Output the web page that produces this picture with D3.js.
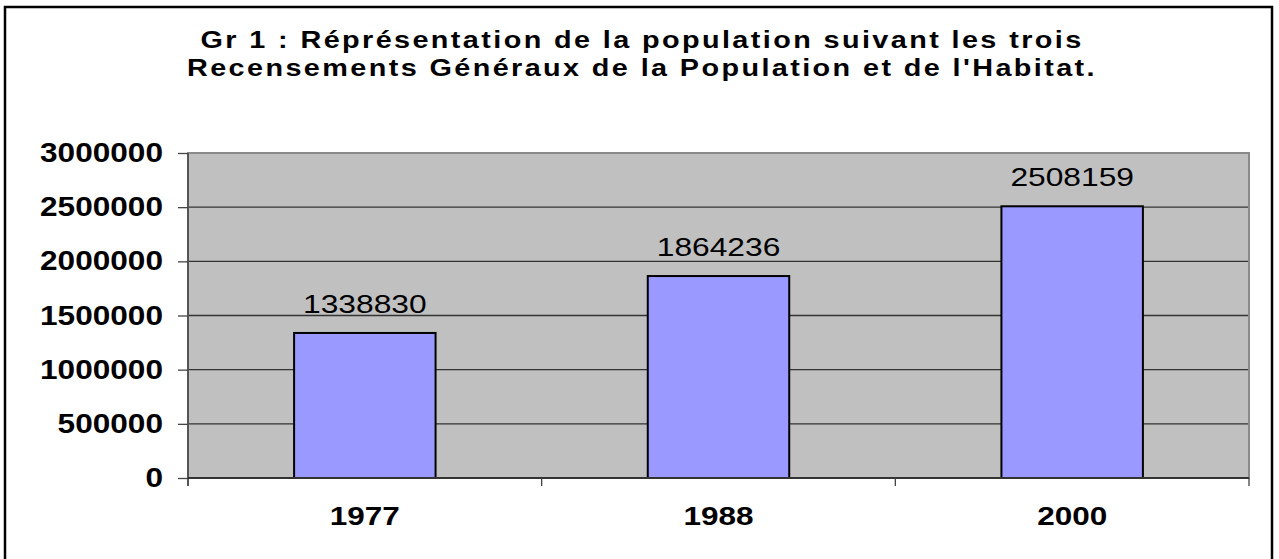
<!DOCTYPE html>
<html>
<head>
<meta charset="utf-8">
<script src="https://cdn.jsdelivr.net/npm/d3@7"></script>
<style>
  html, body { margin: 0; padding: 0; background: #fff; }
  svg text { font-family: "Liberation Sans", Arial, sans-serif; fill: #000; }
</style>
</head>
<body>
<svg id="chart" width="1279" height="559"></svg>
<script>
// data
const years = ['1977', '1988', '2000'];
const population = [1338830, 1864236, 2508159];
const yTicks = [0, 500000, 1000000, 1500000, 2000000, 2500000, 3000000];
const titleLines = [
  'Gr 1 : Réprésentation de la population suivant les trois',
  "Recensements Généraux de la Population et de l'Habitat."
];

const W = 1279, H = 559;
const m = { top: 153, right: 30, bottom: 81, left: 188 };
const w = W - m.left - m.right;
const h = H - m.top - m.bottom;

const svg = d3.select('#chart');

// the original picture is stretched sideways, so text is scaled in x
const label = (sel, x, y, txt, size, weight, anchor, sx) =>
  sel.append('text')
    .attr('transform', `translate(${x},${y}) scale(${sx},1)`)
    .attr('text-anchor', anchor)
    .attr('font-size', size)
    .attr('font-weight', weight)
    .text(txt);

// outer frame (bottom edge falls outside the picture)
svg.append('rect')
  .attr('x', 5).attr('y', 7).attr('width', 1267).attr('height', 580)
  .attr('fill', 'none').attr('stroke', '#000').attr('stroke-width', 2.5);

// title
titleLines.forEach((t, i) =>
  label(svg, 642, 48 + i * 28, t, 24, 'bold', 'middle', 1.2).attr('letter-spacing', 2));

const g = svg.append('g').attr('transform', `translate(${m.left},${m.top})`);

const x = d3.scaleBand().domain(years).range([0, w]).paddingInner(0.6).paddingOuter(0.3);
const xCat = d3.scaleBand().domain(years).range([0, w]);
const y = d3.scaleLinear().domain([0, 3000000]).range([h, 0]);

// plot background
g.append('rect').attr('width', w).attr('height', h).attr('fill', '#c0c0c0');

// gridlines
g.append('g').selectAll('line').data(yTicks.slice(1, -1)).join('line')
  .attr('x1', 0).attr('x2', w)
  .attr('y1', d => y(d)).attr('y2', d => y(d))
  .attr('stroke', '#333').attr('stroke-width', 1.3);

// plot border
g.append('rect').attr('width', w).attr('height', h)
  .attr('fill', 'none').attr('stroke', '#8a8a8a').attr('stroke-width', 2);

// bars
g.append('g').selectAll('rect').data(population).join('rect')
  .attr('x', (d, i) => x(years[i]))
  .attr('y', d => y(d))
  .attr('width', x.bandwidth())
  .attr('height', d => h - y(d))
  .attr('fill', '#9999ff')
  .attr('stroke', '#000').attr('stroke-width', 2);

// value labels
population.forEach((v, i) =>
  label(g, x(years[i]) + x.bandwidth() / 2, y(v) - 20, v, 25, 'normal', 'middle', 1.27));

// y axis
const yAxis = g.append('g')
  .call(d3.axisLeft(y).tickValues(yTicks).tickSize(10).tickPadding(14).tickFormat(d3.format('d')));
yAxis.select('.domain').attr('stroke', '#555').attr('stroke-width', 2).attr('d', `M0,0V${h + 8}`);
yAxis.selectAll('.tick line').attr('stroke', '#444').attr('stroke-width', 1.3);
yAxis.selectAll('.tick text').remove();
yTicks.forEach(t => label(g, -25, y(t) + 9, t, 27, 'bold', 'end', 1.17));

// x axis
const xAxisG = g.append('g').attr('transform', `translate(0,${h})`);
xAxisG.append('line').attr('x1', 0).attr('x2', w).attr('stroke', '#333').attr('stroke-width', 2);
xAxisG.selectAll('.xtick').data(years.slice(1).concat(['end'])).join('line')
  .attr('class', 'xtick')
  .attr('x1', (d, i) => i < years.length - 1 ? xCat(d) : w)
  .attr('x2', (d, i) => i < years.length - 1 ? xCat(d) : w)
  .attr('y1', 0).attr('y2', 8)
  .attr('stroke', '#444').attr('stroke-width', 1.3);
years.forEach(yr => label(xAxisG, xCat(yr) + xCat.bandwidth() / 2, 47, yr, 25, 'bold', 'middle', 1.26));
</script>
</body>
</html>
